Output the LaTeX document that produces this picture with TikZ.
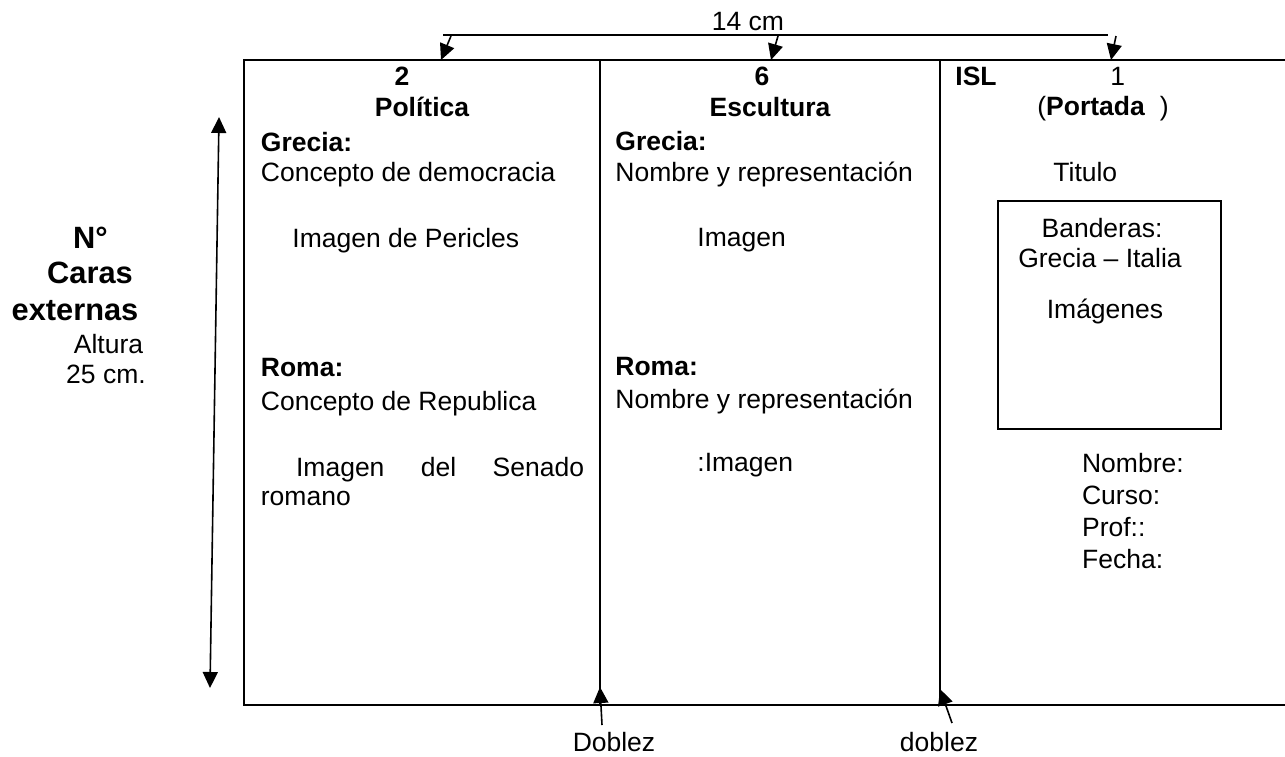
\documentclass[tikz,border=0pt]{standalone}
\usepackage{fontspec}
\setmainfont{Liberation Sans}
\usetikzlibrary{arrows.meta}
\tikzset{
  base/.style={font=\fontsize{13.25}{15}\selectfont},
  txt/.style={base, inner sep=0pt, anchor=base west},
  ctr/.style={base, inner sep=0pt, anchor=base},
  bigbold/.style={font=\fontsize{15.4}{17}\selectfont\bfseries, inner sep=0pt, anchor=base},
  frame/.style={line width=1pt},
  arr/.style={line width=0.8pt, -{Triangle[width=7.5pt,length=8pt]}},
  darr/.style={line width=0.8pt, {Triangle[width=7.5pt,length=8pt]}-{Triangle[width=7.5pt,length=8pt]}},
}
\begin{document}
\begin{tikzpicture}[x=0.5pt,y=-0.5pt]
\useasboundingbox (0,0) rectangle (1285,756);

% frame
\draw[frame] (1285,60) -- (244,60) -- (244,705) -- (1285,705);
\draw[frame] (600,60) -- (600,705);
\draw[frame] (940,60) -- (940,705);

% top dimension
\node[ctr] (dim) at (748,30) {14 cm};
\coordinate (dl) at (443,35);
\coordinate (dr) at (1108,35);
\draw[line width=0.9pt] (dl) -- (dr);
\coordinate (a1s) at (451,36); \coordinate (a1e) at (441,60);
\coordinate (a2s) at (778,36); \coordinate (a2e) at (771,60);
\coordinate (a3s) at (1116,36); \coordinate (a3e) at (1111,60);
\draw[arr] (a1s) -- (a1e);
\draw[arr] (a2s) -- (a2e);
\draw[arr] (a3s) -- (a3e);

% left height arrow
\coordinate (vt) at (219,117);
\coordinate (vb) at (210,688);
\draw[darr] (vb) -- (vt);

% left labels
\node[bigbold] (nn) at (90.5,248) {N°};
\node[bigbold] (caras) at (90,283) {Caras};
\node[bigbold] (ext) at (75,320) {externas};
\node[ctr] (alt) at (108.5,353) {Altura};
\node[ctr] (h25) at (106,383) {25 cm.};

% column 1
\node[ctr,font=\fontsize{13.25}{15}\selectfont\bfseries] (n2) at (402,85) {2};
\node[ctr,font=\fontsize{13.25}{15}\selectfont\bfseries] (pol) at (422,116.7) {Política};
\node[txt,font=\fontsize{13.25}{15}\selectfont\bfseries] (g1) at (260.5,151) {Grecia:};
\node[txt] (c1) at (260.5,181.7) {Concepto de democracia};
\node[txt] (p1) at (292,247) {Imagen de Pericles};
\node[txt,font=\fontsize{13.25}{15}\selectfont\bfseries] (r1) at (260.5,376.7) {Roma:};
\node[txt] (c1b) at (260.5,410) {Concepto de Republica};
\node[txt] (s1) at (295.7,476.7) {\makebox[144pt][s]{Imagen del Senado}};
\node[txt] (ro) at (260.5,505) {romano};

% column 2
\node[ctr,font=\fontsize{13.25}{15}\selectfont\bfseries] (n6) at (762,85) {6};
\node[ctr,font=\fontsize{13.25}{15}\selectfont\bfseries] (esc) at (770,116.7) {Escultura};
\node[txt,font=\fontsize{13.25}{15}\selectfont\bfseries] (g2) at (615,150.7) {Grecia:};
\node[txt] (nr2) at (615,181.7) {Nombre y representación};
\node[txt] (im2) at (697,246) {Imagen};
\node[txt,font=\fontsize{13.25}{15}\selectfont\bfseries] (r2) at (615,375) {Roma:};
\node[txt] (nr2b) at (615,408) {Nombre y representación};
\node[txt] (im2b) at (697,471.7) {:Imagen};

% column 3
\node[txt,font=\fontsize{13.25}{15}\selectfont\bfseries] (isl) at (955,85) {ISL};
\node[txt] (one) at (1110,85) {1};
\node[txt] (port) at (1037,115) {(\textbf{Portada}\ \ )};
\node[txt] (tit) at (1053,181.7) {Titulo};
\node[draw, line width=0.75pt, inner sep=0pt, minimum width=111.5pt, minimum height=114pt] (flag) at (1109.5,315) {};
\node[ctr] (ban) at (1102,237) {Banderas:};
\node[ctr] (gi) at (1100,267) {Grecia – Italia};
\node[ctr] (imgs) at (1105,318) {Imágenes};
\node[txt] (nom) at (1081.7,472) {Nombre:};
\node[txt] (cur) at (1081.7,504) {Curso:};
\node[txt] (prof) at (1081.7,536) {Prof::};
\node[txt] (fec) at (1081.7,568) {Fecha:};

% fold labels
\node[ctr] (dob1) at (614,751) {Doblez};
\node[ctr] (dob2) at (939,751) {doblez};
\coordinate (f1s) at (602,725); \coordinate (f1e) at (600,687);
\coordinate (f2s) at (952,723); \coordinate (f2e) at (940,689);
\draw[arr] (f1s) -- (f1e);
\draw[arr] (f2s) -- (f2e);
\end{tikzpicture}
\end{document}
